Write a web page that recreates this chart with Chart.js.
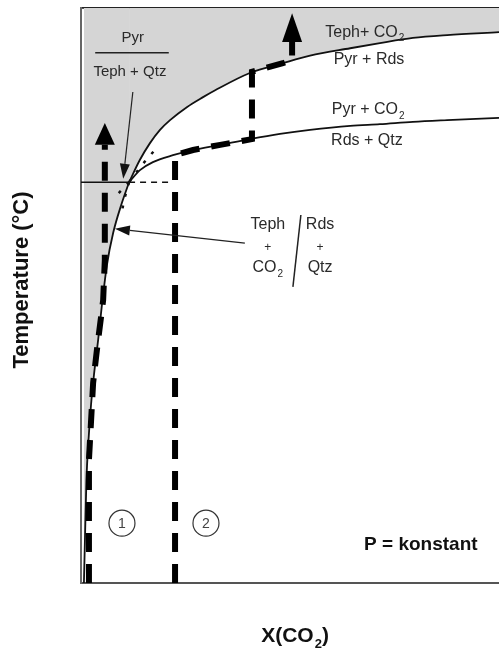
<!DOCTYPE html>
<html>
<head>
<meta charset="utf-8">
<title>T-X(CO2) Diagramm: Teph, Pyr, Rds, Qtz</title>
<script src="https://cdn.jsdelivr.net/npm/chart.js@4.4.1/dist/chart.umd.min.js"></script>
<style>
  html, body { margin: 0; padding: 0; background: #fff; }
  #wrap { width: 499px; height: 650px; position: relative; }
</style>
</head>
<body>
<div id="wrap"><canvas id="diagram"></canvas></div>
<script>
// X(CO2) in % of the axis width, T in relative units (0 = bottom, 100 = top of frame)

// Pyr + Rds = Teph + CO2 (from the invariant point to the right)
const pyrRdsTephX = [11.5, 14.1, 16.5, 18.9, 21.3, 25.4, 29.2, 32.1, 40.4, 48.3, 54.8, 64.4, 71.5, 79.4, 87.6, 100];
const pyrRdsTephT = [69.7, 73.6, 76.5, 78.8, 80.5, 82.8, 84.5, 85.7, 88.7, 90.4, 91.7, 93.0, 93.9, 94.8, 95.3, 95.8];

// Rds + Qtz = Teph + CO2 (steep curve below the invariant point)
const rdsQtzTephX = [0.7, 1.0, 1.3, 1.8, 2.4, 3.1, 4.1, 5.0, 6.2, 7.7, 9.6, 11.5];
const rdsQtzTephT = [0, 9.2, 17.9, 24.9, 31.0, 36.2, 42.3, 48.3, 55.3, 60.9, 65.7, 69.7];

// Rds + Qtz = Pyr + CO2
const rdsQtzPyrX = [11.5, 14.1, 17.2, 22.0, 26.8, 33.3, 40.4, 47.6, 54.8, 64.4, 71.5, 79.4, 87.6, 100];
const rdsQtzPyrT = [69.7, 71.8, 73.2, 74.4, 75.3, 76.2, 77.2, 78.1, 78.8, 79.5, 79.8, 80.2, 80.5, 80.9];

// Teph + Qtz = Pyr (fluid-free, horizontal at constant P)
const tephQtzPyrX = [0, 11.5];
const tephQtzPyrT = [69.7, 69.7];
const tephQtzPyrMetaX = [11.5, 22.0];
const tephQtzPyrMetaT = [69.7, 69.7];

// metastable extensions at the invariant point
const metaTephUpX = [11.5, 14.8, 17.9];
const metaTephUpT = [69.7, 72.9, 75.5];
const metaPyrDownX = [11.5, 7.7];
const metaPyrDownT = [69.7, 66.8];
const metaRdsDownX = [11.5, 10.3, 9.6];
const metaRdsDownT = [69.7, 66.6, 63.8];

// fluid paths 1 and 2 (end = base of the arrow head)
const path1X = [1.9, 1.9, 2.9, 3.8, 5.3, 5.7, 5.7];
const path1T = [0, 21.4, 34.8, 40.5, 49.2, 56.2, 76.2];
const path2X = [22.5, 22.5, 26.8, 33.3, 40.9, 40.9, 48.3, 50.5, 50.5];
const path2T = [0, 74.4, 75.3, 76.2, 77.2, 88.9, 90.4, 91.0, 94.1];
const arrowTipX = [5.7, 50.5];
const arrowTipT = [80.0, 99.1];

const FONT = '"Liberation Sans", Arial, Helvetica, sans-serif';
const INK = '#111';
const TEXT = '#2a2a2a';
const SHADE = '#d5d5d5';

// ---- annotations (placed in data coordinates) ----
const notes = [
  { x: 12.4, t: 94.8, text: 'Pyr', size: 15 },
  { x: 11.7, t: 88.9, text: 'Teph + Qtz', size: 15 },
  { x: 67.9, t: 95.8, text: 'Teph+ CO', sub: '2', size: 16 },
  { x: 68.9, t: 91.0, text: 'Pyr + Rds', size: 16 },
  { x: 68.7, t: 82.3, text: 'Pyr + CO', sub: '2', size: 16 },
  { x: 68.4, t: 77.0, text: 'Rds + Qtz', size: 16 },
  { x: 44.7, t: 62.3, text: 'Teph', size: 16 },
  { x: 44.7, t: 58.4, text: '+', size: 12 },
  { x: 44.7, t: 54.8, text: 'CO', sub: '2', size: 16 },
  { x: 57.2, t: 62.3, text: 'Rds', size: 16 },
  { x: 57.2, t: 58.4, text: '+', size: 12 },
  { x: 57.2, t: 54.8, text: 'Qtz', size: 16 },
  { x: 81.3, t: 6.7, text: 'P = konstant', size: 19, weight: 'bold', color: '#111' }
];
const rules = [
  { x0: 3.4, t0: 92.2, x1: 21.0, t1: 92.2 },   // Pyr / Teph + Qtz
  { x0: 52.6, t0: 64.0, x1: 50.7, t1: 51.5 }   // Teph + CO2 | Rds + Qtz
];
const pointers = [
  { x0: 12.4, t0: 85.4, x1: 10.1, t1: 70.3 },
  { x0: 39.2, t0: 59.1, x1: 8.1, t1: 61.6 }
];
const circles = [
  { x: 9.8, t: 10.4, text: '1' },
  { x: 29.9, t: 10.4, text: '2' }
];

function pts(xs, ts) { return xs.map((x, i) => ({ x, y: ts[i] })); }

function curve(label, xs, ts, extra) {
  return Object.assign({
    label, data: pts(xs, ts), borderColor: INK, borderWidth: 1.8,
    pointRadius: 0, fill: false, tension: 0, order: 2
  }, extra || {});
}

// text with an optional subscript and an optional tail after it, centred on (cx, cy)
function drawLabel(ctx, cx, cy, text, sub, size, weight, color, tail) {
  const main = `${weight || 'normal'} ${size}px ${FONT}`;
  const small = `${weight || 'normal'} ${Math.round(size * 0.6)}px ${FONT}`;
  ctx.font = main;
  const w1 = ctx.measureText(text).width;
  const w3 = tail ? ctx.measureText(tail).width : 0;
  let w2 = 0;
  if (sub) { ctx.font = small; w2 = ctx.measureText(sub).width + 1; }
  const x0 = cx - (w1 + w2 + w3) / 2;
  ctx.fillStyle = color || TEXT;
  ctx.textAlign = 'left';
  ctx.textBaseline = 'middle';
  ctx.font = main;
  ctx.fillText(text, x0, cy);
  if (sub) { ctx.font = small; ctx.fillText(sub, x0 + w1 + 1, cy + size * 0.38); }
  if (tail) { ctx.font = main; ctx.fillText(tail, x0 + w1 + w2, cy); }
}

function head(ctx, bx, by, tx, ty, halfW) {
  const dx = tx - bx, dy = ty - by, len = Math.hypot(dx, dy);
  const nx = -dy / len * halfW, ny = dx / len * halfW;
  ctx.beginPath();
  ctx.moveTo(tx, ty);
  ctx.lineTo(bx + nx, by + ny);
  ctx.lineTo(bx - nx, by - ny);
  ctx.closePath();
  ctx.fill();
}

const annotationPlugin = {
  id: 'annotations',
  afterDatasetsDraw(chart) {
    const { ctx, chartArea, scales: { x, y } } = chart;
    const px = v => x.getPixelForValue(v);
    const py = v => y.getPixelForValue(v);
    ctx.save();

    // big arrow heads on the fluid paths
    ctx.fillStyle = '#000';
    [[path1X, path1T], [path2X, path2T]].forEach(([xs, ts], i) => {
      const n = xs.length - 1;
      head(ctx, px(xs[n]), py(ts[n]), px(arrowTipX[i]), py(arrowTipT[i]), 10);
    });

    // thin rules
    ctx.strokeStyle = '#222';
    ctx.lineWidth = 1.5;
    rules.forEach(r => {
      ctx.beginPath();
      ctx.moveTo(px(r.x0), py(r.t0));
      ctx.lineTo(px(r.x1), py(r.t1));
      ctx.stroke();
    });

    // pointer arrows
    ctx.lineWidth = 1.2;
    ctx.fillStyle = '#111';
    pointers.forEach(p => {
      const x0 = px(p.x0), y0 = py(p.t0), x1 = px(p.x1), y1 = py(p.t1);
      const len = Math.hypot(x1 - x0, y1 - y0);
      const bx = x1 - (x1 - x0) / len * 15, by = y1 - (y1 - y0) / len * 15;
      ctx.beginPath();
      ctx.moveTo(x0, y0);
      ctx.lineTo(bx, by);
      ctx.stroke();
      head(ctx, bx, by, x1, y1, 5);
    });

    // numbered circles
    circles.forEach(c => {
      ctx.beginPath();
      ctx.strokeStyle = '#333';
      ctx.lineWidth = 1.2;
      ctx.arc(px(c.x), py(c.t), 13, 0, Math.PI * 2);
      ctx.stroke();
      drawLabel(ctx, px(c.x), py(c.t) + 1, c.text, null, 14, 'normal', '#444');
    });

    notes.forEach(n => drawLabel(ctx, px(n.x), py(n.t), n.text, n.sub, n.size, n.weight, n.color));

    // axis titles
    drawLabel(ctx, px(51.2), chartArea.bottom + 53, 'X(CO', '2', 21, 'bold', '#111', ')');
    ctx.save();
    ctx.translate(chartArea.left - 59, py(52.7));
    ctx.rotate(-Math.PI / 2);
    drawLabel(ctx, 0, 0, 'Temperature (°C)', null, 22, 'bold', '#111');
    ctx.restore();

    ctx.restore();
  }
};

const hidden = { display: false };
const noGrid = { display: false, drawTicks: false };

new Chart(document.getElementById('diagram'), {
  type: 'line',
  data: {
    datasets: [
      curve('Pyr + Rds = Teph + CO2', pyrRdsTephX, pyrRdsTephT,
        { cubicInterpolationMode: 'monotone', fill: 'end', backgroundColor: SHADE }),
      curve('Rds + Qtz = Teph + CO2', rdsQtzTephX, rdsQtzTephT,
        { cubicInterpolationMode: 'monotone', fill: 'end', backgroundColor: SHADE }),
      curve('Rds + Qtz = Pyr + CO2', rdsQtzPyrX, rdsQtzPyrT, { cubicInterpolationMode: 'monotone' }),
      curve('Teph + Qtz = Pyr', tephQtzPyrX, tephQtzPyrT, { borderWidth: 1.6 }),
      curve('Teph + Qtz = Pyr (metastabil)', tephQtzPyrMetaX, tephQtzPyrMetaT,
        { borderWidth: 1.5, borderDash: [6, 5] }),
      curve('metastabil 1', metaTephUpX, metaTephUpT, { borderWidth: 2.5, borderDash: [3, 9] }),
      curve('metastabil 2', metaPyrDownX, metaPyrDownT, { borderWidth: 2.5, borderDash: [3, 9] }),
      curve('metastabil 3', metaRdsDownX, metaRdsDownT, { borderWidth: 2.5, borderDash: [3, 9] }),
      curve('Weg 1', path1X, path1T, { borderColor: '#000', borderWidth: 6, borderDash: [19, 12], order: 0 }),
      curve('Weg 2', path2X, path2T, { borderColor: '#000', borderWidth: 6, borderDash: [19, 12], order: 0 })
    ]
  },
  options: {
    responsive: true,
    maintainAspectRatio: false,
    animation: false,
    events: [],
    layout: { padding: { left: 81, top: 8, right: 0, bottom: 67 } },
    plugins: {
      legend: hidden,
      tooltip: { enabled: false },
      filler: { drawTime: 'beforeDatasetsDraw' }
    },
    scales: {
      x: {
        type: 'linear', min: 0, max: 100,
        ticks: hidden, grid: noGrid,
        border: { display: true, color: '#555', width: 2 }
      },
      xTop: {
        type: 'linear', position: 'top', min: 0, max: 100,
        ticks: hidden, grid: noGrid,
        border: { display: true, color: '#222', width: 1.8 }
      },
      y: {
        type: 'linear', min: 0, max: 100,
        ticks: hidden, grid: noGrid,
        border: { display: true, color: '#666', width: 2 }
      }
    }
  },
  plugins: [annotationPlugin]
});
</script>
</body>
</html>
